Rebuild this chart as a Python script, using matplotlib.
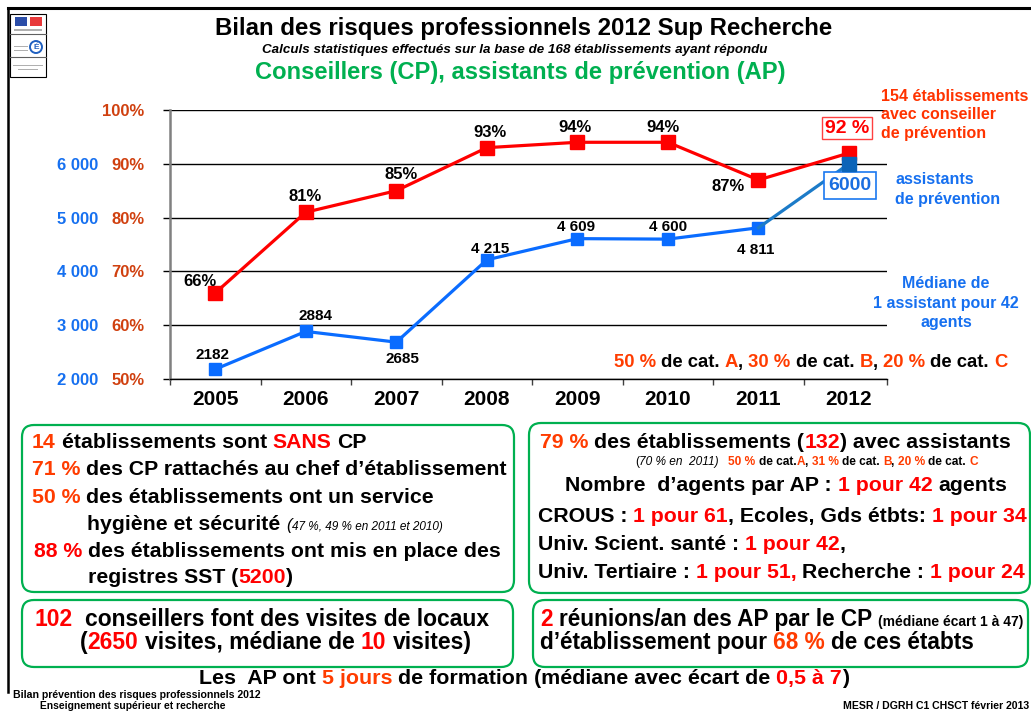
import matplotlib
matplotlib.use('Agg')
import matplotlib.pyplot as plt
from matplotlib.patches import FancyBboxPatch, Rectangle, Circle
from matplotlib.lines import Line2D
from matplotlib.transforms import IdentityTransform

W, H = 1031, 720

# données
years = [2005, 2006, 2007, 2008, 2009, 2010, 2011, 2012]
pct_cp = [66, 81, 85, 93, 94, 94, 87, 92]
nb_ap = [2182, 2884, 2685, 4215, 4609, 4600, 4811, 6000]
pct_labels = ['66%', '81%', '85%', '93%', '94%', '94%', '87%', '92 %']
ap_labels = ['2182', '2884', '2685', '4 215', '4 609', '4 600', '4 811', '6000']
pct_ticks = [50, 60, 70, 80, 90, 100]
pct_tick_labels = ['50%', '60%', '70%', '80%', '90%', '100%']
ap_ticks = [2000, 3000, 4000, 5000, 6000]
ap_tick_labels = ['2 000', '3 000', '4 000', '5 000', '6 000']

# décalage des étiquettes (pixels)
pct_off = [(-15, 11), (-1, 16), (5, 16), (3, 15), (-2, 15), (-5, 15), (-30, -7)]
ap_off = [(-3, 14), (10, 15), (6, -17), (3, 11), (-1, 12), (0, 12), (-3, -22)]

RED = '#FF0000'
ORG = '#FF3C00'
BLK = 'black'
BLUE = '#1670F0'
GREEN = '#00B050'
AXRED = '#D0400F'
FS = 15.3  # taille du texte des encadrés

plt.rcParams['font.family'] = ['Liberation Sans', 'DejaVu Sans']

fig = plt.figure(figsize=(W / 100, H / 100), dpi=100)
fig.patch.set_facecolor('white')
renderer = fig.canvas.get_renderer()


def measure(s, **kw):
    t = fig.text(0, 0, '|' + s + '|', **kw)
    t0 = fig.text(0, 0, '||', **kw)
    w = t.get_window_extent(renderer).width - t0.get_window_extent(renderer).width
    t.remove()
    t0.remove()
    return w


def line(x, y, parts, size=FS, ha='left'):
    items = []
    for p in parts:
        kw = dict(fontsize=size, weight='bold', style='normal')
        if len(p) > 2:
            kw.update(p[2])
        items.append((p[0], p[1], kw, measure(p[0], **kw)))
    total = sum(it[3] for it in items)
    if ha == 'center':
        x -= total / 2
    elif ha == 'right':
        x -= total
    for s, c, kw, w in items:
        st = s.lstrip(' ')
        lead = measure(s[:len(s) - len(st)], **kw) if st != s else 0
        if st:
            fig.text((x + lead) / W, 1 - y / H, st, color=c, va='baseline', ha='left', **kw)
        x += w


def box(x0, y0, x1, y1):
    p = FancyBboxPatch((x0, H - y1), x1 - x0, y1 - y0,
                       boxstyle='round,pad=0,rounding_size=12',
                       transform=IdentityTransform(), fc='white', ec=GREEN, lw=1.6)
    fig.patches.append(p)


# cadre de la diapositive
fig.add_artist(Line2D([8, W], [H - 8, H - 8], transform=IdentityTransform(), color='black', lw=2.2))
fig.add_artist(Line2D([8, 8], [H - 8, H - 692], transform=IdentityTransform(), color='black', lw=1.8))

# logo
for r in [Rectangle((10, H - 77), 36, 63, fc='white', ec='black', lw=0.8),
          Rectangle((15, H - 26), 12, 9, fc='#2B4DA8', ec='none'),
          Rectangle((30, H - 26), 12, 9, fc='#E8393A', ec='none'),
          Rectangle((14, H - 31), 28, 2, fc='#B0B0B0', ec='none'),
          Rectangle((14, H - 47), 14, 1.5, fc='#B0B0B0', ec='none'),
          Rectangle((14, H - 51), 14, 1.5, fc='#B0B0B0', ec='none'),
          Rectangle((13, H - 66), 30, 1.5, fc='#B0B0B0', ec='none'),
          Rectangle((18, H - 70), 20, 1.5, fc='#B0B0B0', ec='none')]:
    r.set_transform(IdentityTransform())
    fig.patches.append(r)
fig.add_artist(Line2D([10, 46], [H - 34, H - 34], transform=IdentityTransform(), color='#606060', lw=0.8))
fig.add_artist(Line2D([10, 46], [H - 57, H - 57], transform=IdentityTransform(), color='#606060', lw=0.8))
c = Circle((36, H - 47), 6, transform=IdentityTransform(), fc='white', ec='#2060C0', lw=1.4)
fig.patches.append(c)
fig.text(36 / W, 1 - 47.5 / H, 'É', ha='center', va='center', fontsize=6, weight='bold', color='#2060C0')

# titres
fig.text(523.5 / W, 1 - 28 / H, 'Bilan des risques professionnels 2012 Sup Recherche',
         ha='center', va='center', fontsize=17.25, weight='bold')
fig.text(515 / W, 1 - 50 / H, 'Calculs statistiques effectués sur la base de 168 établissements ayant répondu',
         ha='center', va='center', fontsize=9.6, weight='bold', style='italic')
fig.text(520 / W, 1 - 73 / H, 'Conseillers (CP), assistants de prévention (AP)',
         ha='center', va='center', fontsize=17.1, weight='bold', color=GREEN)

# graphique
ax = fig.add_axes([170 / W, (H - 379) / H, (887 - 170) / W, (379 - 110) / H])
ax.patch.set_alpha(0)
ax.set_xlim(2004.5, 2012.42)
ax.set_ylim(50, 100)
ax.set_yticks(pct_ticks, pct_tick_labels)
ax.yaxis.grid(True, color='black', lw=1.0)
ax.set_axisbelow(True)
for s in ['top', 'right']:
    ax.spines[s].set_visible(False)
ax.spines['left'].set_color('#808080')
ax.spines['left'].set_linewidth(1.8)
ax.spines['bottom'].set_linewidth(1.0)
ax.tick_params(axis='y', length=5, width=1, color='black', pad=13.5,
               labelcolor=AXRED, labelsize=12)
for t in ax.get_yticklabels():
    t.set_fontweight('bold')
ax.set_xticks(years, [str(y) for y in years])
ax.set_xticks([2004.5, 2005.5, 2006.5, 2007.5, 2008.5, 2009.5, 2010.5, 2011.5, 2012.42], minor=True)
ax.tick_params(axis='x', which='major', length=0, pad=8, labelsize=15)
ax.tick_params(axis='x', which='minor', length=4, width=1, color='#404040')
for t in ax.get_xticklabels():
    t.set_fontweight('bold')

ax2 = ax.twinx()
ax2.set_ylim(2000, 7000)
ax2.yaxis.set_ticks_position('left')
ax2.set_yticks(ap_ticks, ap_tick_labels)
ax2.tick_params(axis='y', length=0, pad=52, labelcolor=BLUE, labelsize=12)
for t in ax2.get_yticklabels():
    t.set_fontweight('bold')
for s in ax2.spines.values():
    s.set_visible(False)

ax.plot(years, pct_cp, color='#FF0000', lw=2.3, marker='s', ms=10, zorder=3, clip_on=False)
ax2.plot(years[:-1], nb_ap[:-1], color='#0A6CFF', lw=2.3, marker='s', ms=8, zorder=3, clip_on=False)
ax2.plot(years[-2:], nb_ap[-2:], color='#1C7BC8', lw=2.3, zorder=3, clip_on=False)
ax2.plot(years[-1:], nb_ap[-1:], 's', color='#0B64B8', ms=10, zorder=4, clip_on=False)

for i in range(len(years) - 1):
    ax.annotate(pct_labels[i], (years[i], pct_cp[i]), xytext=pct_off[i], textcoords='offset pixels',
                ha='center', va='center', fontsize=12, weight='bold')
    ax2.annotate(ap_labels[i], (years[i], nb_ap[i]), xytext=ap_off[i], textcoords='offset pixels',
                 ha='center', va='center', fontsize=11, weight='bold')
ax.annotate(pct_labels[-1], (years[-1], pct_cp[-1]), xytext=(-2, 25), textcoords='offset pixels',
            ha='center', va='center', fontsize=14, weight='bold', color=RED,
            bbox=dict(boxstyle='square,pad=0.15', fc='white', ec='#FF4040', lw=1))
ax2.annotate(ap_labels[-1], (years[-1], nb_ap[-1]), xytext=(1, -22), textcoords='offset pixels',
             ha='center', va='center', fontsize=14, weight='bold', color='#1A6EE0',
             bbox=dict(boxstyle='square,pad=0.25', fc='white', ec='#1A78F0', lw=1.2))

# annotations à droite
for yy, s in [(101, '154 établissements'), (119, 'avec conseiller'), (138, 'de prévention')]:
    fig.text(881 / W, 1 - yy / H, s, va='baseline', fontsize=11.5, weight='bold', color='#FF3300')
for yy, s in [(184, 'assistants'), (204, 'de prévention')]:
    fig.text(895 / W, 1 - yy / H, s, va='baseline', fontsize=11.5, weight='bold', color=BLUE)
for yy, s in [(288, 'Médiane de'), (308, '1 assistant pour 42'), (327, 'agents')]:
    fig.text(946 / W, 1 - yy / H, s, va='baseline', ha='center', fontsize=11.5, weight='bold', color=BLUE)
line(614, 367, [('50 %', ORG), (' de cat. ', BLK), ('A', ORG), (', ', BLK), ('30 %', ORG),
                (' de cat. ', BLK), ('B', ORG), (', ', BLK), ('20 %', ORG), (' de cat. ', BLK), ('C', ORG)],
     size=13.3)

# encadrés
box(22, 425, 514, 592)
box(529, 423, 1030, 593)
box(22, 600, 513, 667)
box(533, 600, 1028, 667)

small_it = {'fontsize': 8.5, 'style': 'italic', 'weight': 'normal'}
line(32, 448, [('14', ORG), (' établissements sont ', BLK), ('SANS', RED), (' CP', BLK)])
line(32, 475, [('71 %', ORG), (' des CP rattachés au chef d’établissement', BLK)])
line(32, 503, [('50 %', ORG), (' des établissements ont un service', BLK)])
line(87, 530, [('hygiène et sécurité ', BLK), ('(', BLK, {'fontsize': 12, 'style': 'italic', 'weight': 'normal'}),
               ('47 %, 49 % en 2011 et 2010)', BLK, small_it)])
line(34, 557, [('88 %', RED), (' des établissements ont mis en place des', BLK)])
line(88, 583, [('registres SST (', BLK), ('5200', RED), (')', BLK)])

tiny = {'fontsize': 8.6}
tiny_it = {'fontsize': 8.6, 'style': 'italic', 'weight': 'normal'}
line(540, 448, [('79 %', ORG), (' des établissements (', BLK), ('132', RED), (') avec assistants', BLK)])
line(635, 465, [('(', BLK, {'fontsize': 8.6, 'weight': 'normal'}), ('70 % en  2011)', BLK, tiny_it),
                ('   50 %', ORG, tiny), (' de cat.', BLK, tiny), ('A', ORG, tiny), (', ', BLK, tiny),
                ('31 %', ORG, tiny), (' de cat. ', BLK, tiny), ('B', ORG, tiny), (', ', BLK, tiny),
                ('20 %', ORG, tiny), (' de cat. ', BLK, tiny), ('C', ORG, tiny)])
line(786, 491, [('Nombre  d’agents par AP : ', BLK), ('1 pour 42', RED), (' agents', BLK)], ha='center')
line(538, 522, [('CROUS : ', BLK), ('1 pour 61', RED), (', Ecoles, Gds étbts: ', BLK), ('1 pour 34', RED)])
line(538, 550, [('Univ. Scient. santé : ', BLK), ('1 pour 42', RED), (',', BLK)])
line(538, 578, [('Univ. Tertiaire : ', BLK), ('1 pour 51,', RED), (' Recherche : ', BLK), ('1 pour 24', RED)])

line(34, 626, [('102', RED), ('  conseillers font des visites de locaux', BLK)], size=16.5)
line(80, 649, [('(', BLK), ('2650', RED), (' visites, médiane de ', BLK), ('10', RED), (' visites)', BLK)], size=16.5)
line(540, 626, [('2', RED), (' réunions/an des AP par le CP ', BLK), ('(médiane écart 1 à 47)', BLK, {'fontsize': 10})],
     size=16.3)
line(540, 649, [('d’établissement pour ', BLK), ('68 %', ORG), (' de ces étabts', BLK)], size=16.3)

line(524, 684, [('Les  AP ont ', BLK), ('5 jours', ORG), (' de formation (médiane avec écart de ', BLK),
                ('0,5 à 7', RED), (')', BLK)], size=15.4, ha='center')

# pied de page
fig.text(13 / W, 1 - 695 / H, 'Bilan prévention des risques professionnels 2012', va='center',
         fontsize=7.6, weight='bold')
fig.text(40 / W, 1 - 706 / H, 'Enseignement supérieur et recherche', va='center', fontsize=7.4, weight='bold')
fig.text(1029 / W, 1 - 706 / H, 'MESR / DGRH C1 CHSCT février 2013', va='center', ha='right',
         fontsize=7.6, weight='bold')

fig.savefig('out.png', dpi=100)
